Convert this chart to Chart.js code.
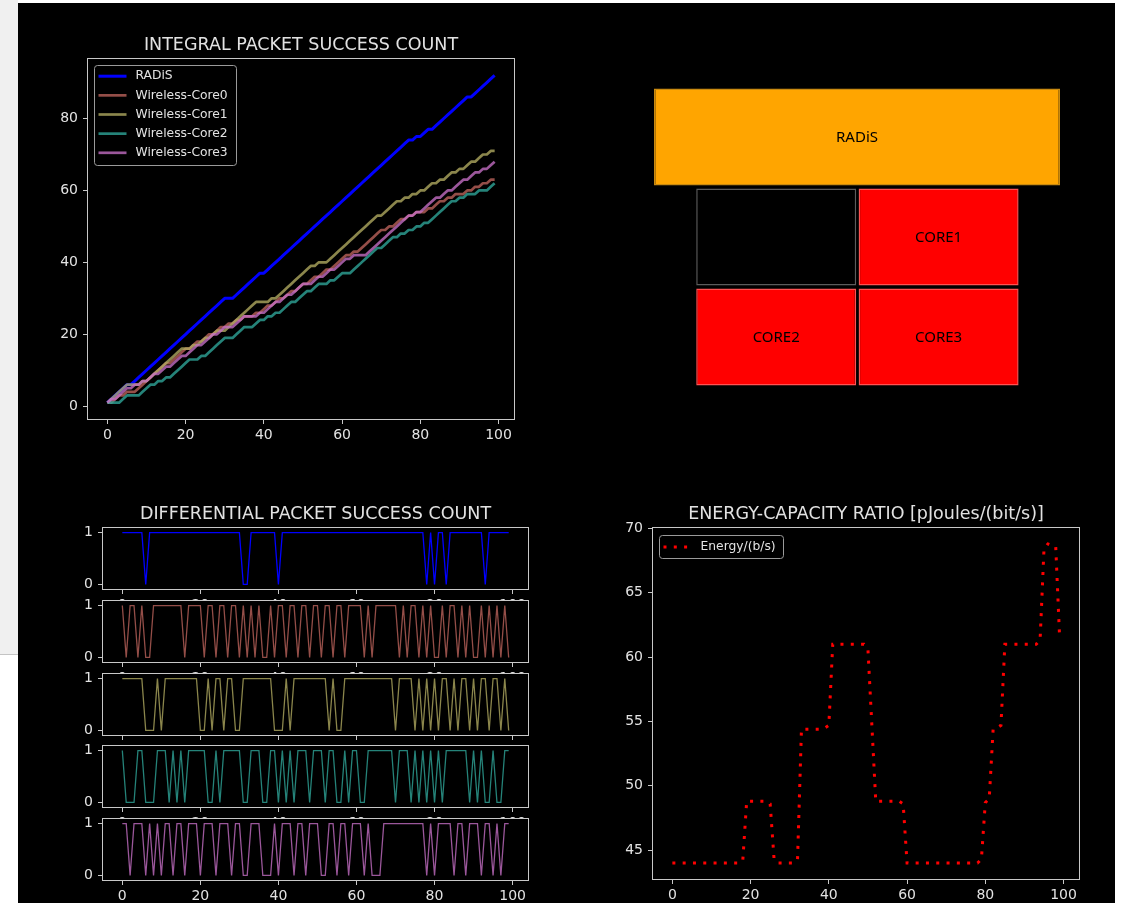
<!DOCTYPE html>
<html>
<head>
<meta charset="utf-8">
<script src="https://cdn.jsdelivr.net/npm/chart.js@4.4.1/dist/chart.umd.min.js"></script>
<style>
  html, body { margin: 0; padding: 0; background: #fff; }
  body { width: 1122px; height: 903px; position: relative; overflow: hidden; }
  #side { position: absolute; left: 0; top: 0; width: 18px; height: 654px; background: #f0f0f0; border-bottom: 1px solid #c4c4c4; }
  #fig { position: absolute; left: 18px; top: 3px; width: 1097px; height: 900px; background: #000; }
  canvas { position: absolute; }
</style>
</head>
<body>
<div id="side"></div>
<div id="fig"></div>
<canvas id="integral" width="500" height="425" style="left:30px;top:28px"></canvas>
<canvas id="layout" width="406" height="300" style="left:654px;top:87px"></canvas>
<canvas id="diff0" width="490" height="115" style="left:50px;top:500px"></canvas>
<canvas id="diff1" width="490" height="101" style="left:50px;top:587px"></canvas>
<canvas id="diff2" width="490" height="101" style="left:50px;top:660px"></canvas>
<canvas id="diff3" width="490" height="101" style="left:50px;top:732px"></canvas>
<canvas id="diff4" width="490" height="101" style="left:50px;top:805px"></canvas>
<canvas id="energy" width="500" height="410" style="left:600px;top:496px"></canvas>
<script>
// valores
const steps = Array.from({ length: 100 }, (_, i) => i);
const seriesNames = ["RADiS", "Wireless-Core0", "Wireless-Core1", "Wireless-Core2", "Wireless-Core3"];
const xTicks = [0, 20, 40, 60, 80, 100];
const integralYTicks = [0, 20, 40, 60, 80];
const diffYTicks = [0, 1];
const energyYTicks = [45, 50, 55, 60, 65, 70];

const integralRadis = [
  1, 2, 3, 4, 5, 6, 6, 7, 8, 9,
  10, 11, 12, 13, 14, 15, 16, 17, 18, 19,
  20, 21, 22, 23, 24, 25, 26, 27, 28, 29,
  30, 30, 30, 31, 32, 33, 34, 35, 36, 37,
  37, 38, 39, 40, 41, 42, 43, 44, 45, 46,
  47, 48, 49, 50, 51, 52, 53, 54, 55, 56,
  57, 58, 59, 60, 61, 62, 63, 64, 65, 66,
  67, 68, 69, 70, 71, 72, 73, 74, 74, 75,
  75, 76, 77, 77, 78, 79, 80, 81, 82, 83,
  84, 85, 86, 86, 87, 88, 89, 90, 91, 92];
const integralCore0 = [
  1, 1, 2, 3, 3, 4, 4, 4, 5, 6,
  7, 8, 9, 10, 11, 12, 12, 13, 14, 15,
  16, 16, 17, 18, 18, 19, 20, 20, 21, 22,
  22, 23, 23, 24, 24, 25, 25, 25, 26, 26,
  27, 28, 28, 29, 30, 30, 31, 32, 32, 33,
  34, 34, 35, 36, 36, 37, 38, 38, 39, 40,
  41, 42, 42, 43, 43, 44, 45, 46, 47, 48,
  49, 49, 50, 50, 51, 52, 52, 53, 53, 54,
  54, 54, 55, 55, 56, 57, 57, 58, 58, 59,
  59, 59, 60, 60, 61, 61, 62, 62, 63, 63];
const integralCore1 = [
  1, 2, 3, 4, 5, 6, 6, 6, 6, 7,
  7, 8, 9, 10, 11, 12, 13, 14, 15, 16,
  16, 16, 17, 17, 18, 19, 19, 20, 21, 21,
  21, 22, 23, 24, 25, 26, 27, 28, 29, 29,
  29, 29, 30, 30, 31, 32, 33, 34, 35, 36,
  37, 38, 39, 39, 40, 40, 40, 41, 42, 43,
  44, 45, 46, 47, 48, 49, 50, 51, 52, 53,
  53, 54, 55, 56, 57, 57, 58, 58, 59, 59,
  60, 60, 61, 62, 62, 63, 63, 64, 65, 65,
  66, 66, 67, 68, 68, 69, 70, 70, 71, 71];
const integralCore2 = [
  1, 1, 1, 1, 2, 3, 3, 3, 3, 4,
  5, 6, 6, 7, 7, 8, 8, 9, 10, 11,
  12, 13, 13, 13, 14, 14, 15, 16, 17, 18,
  19, 19, 19, 20, 21, 22, 22, 22, 23, 24,
  24, 25, 25, 26, 26, 27, 28, 29, 29, 30,
  31, 32, 32, 33, 34, 34, 34, 35, 35, 36,
  37, 37, 37, 38, 39, 40, 41, 42, 43, 44,
  44, 45, 46, 47, 47, 48, 48, 49, 49, 50,
  50, 51, 51, 52, 53, 54, 55, 56, 57, 57,
  58, 58, 59, 59, 59, 60, 60, 60, 61, 62];
const integralCore3 = [
  1, 2, 2, 3, 4, 5, 5, 6, 6, 7,
  7, 8, 9, 9, 10, 11, 11, 12, 13, 14,
  14, 15, 16, 17, 17, 18, 19, 20, 20, 21,
  22, 22, 22, 23, 24, 25, 25, 25, 25, 26,
  26, 27, 28, 29, 29, 30, 31, 31, 32, 33,
  34, 34, 34, 35, 36, 36, 37, 38, 38, 39,
  40, 41, 41, 42, 42, 42, 42, 43, 44, 45,
  46, 47, 48, 49, 50, 51, 52, 53, 53, 54,
  54, 55, 56, 57, 58, 58, 59, 60, 60, 61,
  62, 63, 63, 64, 65, 65, 66, 66, 67, 68];

const diffRadis = [
  1, 1, 1, 1, 1, 1, 0, 1, 1, 1,
  1, 1, 1, 1, 1, 1, 1, 1, 1, 1,
  1, 1, 1, 1, 1, 1, 1, 1, 1, 1,
  1, 0, 0, 1, 1, 1, 1, 1, 1, 1,
  0, 1, 1, 1, 1, 1, 1, 1, 1, 1,
  1, 1, 1, 1, 1, 1, 1, 1, 1, 1,
  1, 1, 1, 1, 1, 1, 1, 1, 1, 1,
  1, 1, 1, 1, 1, 1, 1, 1, 0, 1,
  0, 1, 1, 0, 1, 1, 1, 1, 1, 1,
  1, 1, 1, 0, 1, 1, 1, 1, 1, 1];
const diffCore0 = [
  1, 0, 1, 1, 0, 1, 0, 0, 1, 1,
  1, 1, 1, 1, 1, 1, 0, 1, 1, 1,
  1, 0, 1, 1, 0, 1, 1, 0, 1, 1,
  0, 1, 0, 1, 0, 1, 0, 0, 1, 0,
  1, 1, 0, 1, 1, 0, 1, 1, 0, 1,
  1, 0, 1, 1, 0, 1, 1, 0, 1, 1,
  1, 1, 0, 1, 0, 1, 1, 1, 1, 1,
  1, 0, 1, 0, 1, 1, 0, 1, 0, 1,
  0, 0, 1, 0, 1, 1, 0, 1, 0, 1,
  0, 0, 1, 0, 1, 0, 1, 0, 1, 0];
const diffCore1 = [
  1, 1, 1, 1, 1, 1, 0, 0, 0, 1,
  0, 1, 1, 1, 1, 1, 1, 1, 1, 1,
  0, 0, 1, 0, 1, 1, 0, 1, 1, 0,
  0, 1, 1, 1, 1, 1, 1, 1, 1, 0,
  0, 0, 1, 0, 1, 1, 1, 1, 1, 1,
  1, 1, 1, 0, 1, 0, 0, 1, 1, 1,
  1, 1, 1, 1, 1, 1, 1, 1, 1, 1,
  0, 1, 1, 1, 1, 0, 1, 0, 1, 0,
  1, 0, 1, 1, 0, 1, 0, 1, 1, 0,
  1, 0, 1, 1, 0, 1, 1, 0, 1, 0];
const diffCore2 = [
  1, 0, 0, 0, 1, 1, 0, 0, 0, 1,
  1, 1, 0, 1, 0, 1, 0, 1, 1, 1,
  1, 1, 0, 0, 1, 0, 1, 1, 1, 1,
  1, 0, 0, 1, 1, 1, 0, 0, 1, 1,
  0, 1, 0, 1, 0, 1, 1, 1, 0, 1,
  1, 1, 0, 1, 1, 0, 0, 1, 0, 1,
  1, 0, 0, 1, 1, 1, 1, 1, 1, 1,
  0, 1, 1, 1, 0, 1, 0, 1, 0, 1,
  0, 1, 0, 1, 1, 1, 1, 1, 1, 0,
  1, 0, 1, 0, 0, 1, 0, 0, 1, 1];
const diffCore3 = [
  1, 1, 0, 1, 1, 1, 0, 1, 0, 1,
  0, 1, 1, 0, 1, 1, 0, 1, 1, 1,
  0, 1, 1, 1, 0, 1, 1, 1, 0, 1,
  1, 0, 0, 1, 1, 1, 0, 0, 0, 1,
  0, 1, 1, 1, 0, 1, 1, 0, 1, 1,
  1, 0, 0, 1, 1, 0, 1, 1, 0, 1,
  1, 1, 0, 1, 0, 0, 0, 1, 1, 1,
  1, 1, 1, 1, 1, 1, 1, 1, 0, 1,
  0, 1, 1, 1, 1, 0, 1, 1, 0, 1,
  1, 1, 0, 1, 1, 0, 1, 0, 1, 1];

const energyRatio = [
  44, 44, 44, 44, 44, 44, 44, 44, 44, 44,
  44, 44, 44, 44, 44, 44, 44, 44, 44.2, 48.8,
  48.8, 48.8, 48.8, 48.8, 48.8, 48.6, 44.3, 44, 44, 44,
  44, 44, 44.3, 54.4, 54.4, 54.4, 54.4, 54.4, 54.4, 54.5,
  54.7, 61, 61, 61, 61, 61, 61, 61, 61, 61,
  60.6, 54.7, 48.8, 48.8, 48.8, 48.8, 48.8, 48.8, 48.8, 48.6,
  44, 44, 44, 44, 44, 44, 44, 44, 44, 44,
  44, 44, 44, 44, 44, 44, 44, 44, 44, 44.3,
  48.7, 49, 54.4, 54.5, 54.7, 61, 61, 61, 61, 61,
  61, 61, 61, 61, 61.3, 68.4, 68.8, 68.7, 68.6, 61.5];

// diagrama do chip: linhas e faixas de cada bloco
const blockRows = ["RADiS", "linha1", "linha2"];
const leftBlocks = [[0, 5], [0.52, 2.49], [0.52, 2.49]];
const rightBlocks = [null, [2.52, 4.49], [2.52, 4.49]];
const leftNames = ["RADiS", "CORE0", "CORE2"];
const rightNames = [null, "CORE1", "CORE3"];

const lineColors = ["#0000ff", "rgba(190,100,92,0.78)", "rgba(178,172,98,0.78)", "rgba(48,168,155,0.78)", "rgba(198,112,198,0.78)"];
const textColor = "#e2e2e2";
const edgeColor = "#c8c8c8";

Chart.defaults.font.family = '"DejaVu Sans", sans-serif';
Chart.defaults.color = textColor;
Chart.defaults.animation = false;

const pairs = (vals) => steps.map((x, i) => ({ x: x, y: vals[i] }));

// fundo preto e moldura dos eixos
const axesBox = {
  id: "axesBox",
  beforeDraw(chart) {
    const { ctx, chartArea: a } = chart;
    ctx.save();
    ctx.fillStyle = "#000";
    ctx.fillRect(a.left, a.top, a.right - a.left, a.bottom - a.top);
    ctx.restore();
  },
  afterDraw(chart) {
    const { ctx, chartArea: a } = chart;
    ctx.save();
    ctx.strokeStyle = edgeColor;
    ctx.lineWidth = 1;
    ctx.strokeRect(Math.round(a.left) - 0.5, Math.round(a.top) - 0.5, Math.round(a.right - a.left) + 1, Math.round(a.bottom - a.top) + 1);
    ctx.restore();
  },
};

const topTitle = {
  id: "topTitle",
  afterDraw(chart, args, o) {
    if (!o.text) return;
    const { ctx, chartArea: a } = chart;
    ctx.save();
    ctx.fillStyle = textColor;
    ctx.font = '17.5px "DejaVu Sans"';
    ctx.textAlign = "center";
    ctx.textBaseline = "middle";
    ctx.fillText(o.text, (a.left + a.right) / 2, a.top - 14);
    ctx.restore();
  },
};

const boxLegend = {
  id: "boxLegend",
  afterDraw(chart, args, o) {
    if (!o.w) return;
    const { ctx, chartArea: a } = chart;
    const x0 = Math.round(a.left + o.dx) + 0.5;
    const y0 = Math.round(a.top + o.dy) + 0.5;
    ctx.save();
    ctx.beginPath();
    if (ctx.roundRect) ctx.roundRect(x0, y0, o.w, o.h, 3);
    else ctx.rect(x0, y0, o.w, o.h);
    ctx.fillStyle = "rgba(0,0,0,0.8)";
    ctx.fill();
    ctx.strokeStyle = "#9a9a9a";
    ctx.lineWidth = 1;
    ctx.stroke();
    ctx.font = '12.3px "DejaVu Sans"';
    ctx.textBaseline = "middle";
    chart.data.datasets.forEach((d, i) => {
      const y = y0 + o.first + i * o.step;
      ctx.strokeStyle = d.borderColor;
      ctx.lineWidth = d.borderWidth;
      ctx.setLineDash(d.borderDash || []);
      ctx.beginPath();
      ctx.moveTo(x0 + 4, y);
      ctx.lineTo(x0 + 32, y);
      ctx.stroke();
      ctx.setLineDash([]);
      ctx.fillStyle = textColor;
      ctx.fillText(d.label, x0 + 41, y);
    });
    ctx.restore();
  },
};

function axis(min, max, ticks, size, horizontal) {
  return {
    type: "linear",
    min: min,
    max: max,
    afterBuildTicks: (s) => { s.ticks = ticks.map((v) => ({ value: v })); },
    afterFit: (s) => { if (horizontal) s.height = size; else s.width = size; },
    grid: { drawOnChartArea: false, tickLength: 5, tickWidth: 1, tickColor: edgeColor },
    border: { display: false },
    ticks: { font: { size: 14 }, padding: horizontal ? 3 : 5, maxRotation: 0, autoSkip: false, color: textColor },
  };
}

// Grafico integral
const integralSets = [integralRadis, integralCore0, integralCore1, integralCore2, integralCore3];
new Chart(document.getElementById("integral"), {
  type: "line",
  data: {
    datasets: integralSets.map((vals, i) => ({
      label: seriesNames[i],
      data: pairs(vals),
      borderColor: lineColors[i],
      borderWidth: i === 0 ? 3 : 2.7,
      pointRadius: 0,
      tension: 0,
      borderJoinStyle: "round",
      order: 4 - i,
    })),
  },
  options: {
    responsive: false,
    layout: { padding: { top: 31, right: 16, left: 0, bottom: 0 } },
    scales: {
      x: axis(-4.95, 103.95, xTicks, 34, true),
      y: axis(-3.55, 96.55, integralYTicks, 58, false),
    },
    plugins: {
      legend: { display: false },
      tooltip: { enabled: false },
      topTitle: { text: "INTEGRAL PACKET SUCCESS COUNT" },
      boxLegend: { dx: 6.3, dy: 6, w: 142, h: 100, first: 10.7, step: 19.15 },
    },
  },
  plugins: [axesBox, topTitle, boxLegend],
});

// Diagrama RADiS / cores
const blockText = {
  id: "blockText",
  afterDatasetsDraw(chart, args, o) {
    const ctx = chart.ctx;
    ctx.save();
    ctx.font = '15px "Noto Sans"';
    ctx.fillStyle = "#000";
    ctx.textAlign = "center";
    ctx.textBaseline = "middle";
    chart.data.datasets.forEach((d, di) => {
      chart.getDatasetMeta(di).data.forEach((el, i) => {
        const name = o.names[di][i];
        if (!name || !d.data[i]) return;
        ctx.fillText(name, (el.x + el.base) / 2, el.y + 1);
      });
    });
    ctx.restore();
  },
};

new Chart(document.getElementById("layout"), {
  type: "bar",
  data: {
    labels: blockRows,
    datasets: [
      {
        data: leftBlocks,
        backgroundColor: ["#ffa500", "#000000", "#ff0000"],
        borderColor: ["#c98a10", "#5c5c5c", "#ff5252"],
        borderWidth: 1.5,
        borderSkipped: false,
        grouped: false,
        barPercentage: 1,
        categoryPercentage: 0.97,
        inflateAmount: 0,
      },
      {
        data: rightBlocks,
        backgroundColor: [null, "#ff0000", "#ff0000"],
        borderColor: [null, "#ff5252", "#ff5252"],
        borderWidth: 1.5,
        borderSkipped: false,
        grouped: false,
        barPercentage: 1,
        categoryPercentage: 0.97,
        inflateAmount: 0,
      },
    ],
  },
  options: {
    indexAxis: "y",
    responsive: false,
    layout: { padding: 0 },
    scales: {
      x: { type: "linear", min: 0, max: 5, display: false },
      y: { display: false },
    },
    plugins: {
      legend: { display: false },
      tooltip: { enabled: false },
      blockText: { names: [leftNames, rightNames] },
    },
  },
  plugins: [blockText],
});

// Graficos diferenciais
const diffSets = [diffRadis, diffCore0, diffCore1, diffCore2, diffCore3];
diffSets.forEach((vals, i) => {
  new Chart(document.getElementById("diff" + i), {
    type: "line",
    data: {
      datasets: [{
        label: seriesNames[i],
        data: pairs(vals),
        borderColor: lineColors[i],
        borderWidth: 1.3,
        pointRadius: 0,
        tension: 0,
      }],
    },
    options: {
      responsive: false,
      layout: { padding: { top: i === 0 ? 28 : 14, right: 12, left: 0, bottom: 0 } },
      scales: {
        x: axis(-4.95, 103.95, xTicks, 26, true),
        y: axis(-0.088, 1.088, diffYTicks, 53, false),
      },
      plugins: {
        legend: { display: false },
        tooltip: { enabled: false },
        topTitle: { text: i === 0 ? "DIFFERENTIAL PACKET SUCCESS COUNT" : "" },
      },
    },
    plugins: [axesBox, topTitle],
  });
});

// Energia por capacidade
new Chart(document.getElementById("energy"), {
  type: "line",
  data: {
    datasets: [{
      label: "Energy/(b/s)",
      data: pairs(energyRatio),
      borderColor: "#ff0000",
      borderWidth: 3,
      borderDash: [3, 7.3],
      borderCapStyle: "butt",
      pointRadius: 0,
      tension: 0,
    }],
  },
  options: {
    responsive: false,
    layout: { padding: { top: 32, right: 21, left: 0, bottom: 0 } },
    scales: {
      x: axis(-4.95, 103.95, xTicks, 27, true),
      y: axis(42.76, 70.04, energyYTicks, 53, false),
    },
    plugins: {
      legend: { display: false },
      tooltip: { enabled: false },
      topTitle: { text: "ENERGY-CAPACITY RATIO [pJoules/(bit/s)]" },
      boxLegend: { dx: 5.6, dy: 6.6, w: 124, h: 23, first: 11.5, step: 19 },
    },
  },
  plugins: [axesBox, topTitle, boxLegend],
});
</script>
</body>
</html>
